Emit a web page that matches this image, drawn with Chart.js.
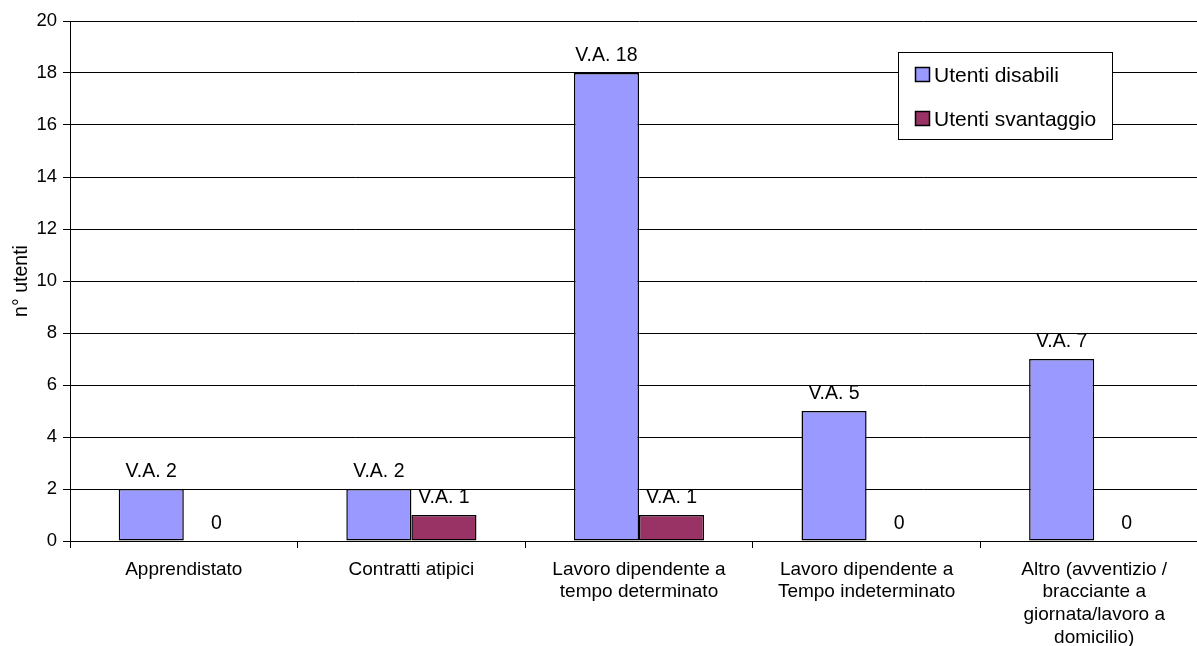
<!DOCTYPE html>
<html>
<head>
<meta charset="utf-8">
<script src="https://cdn.jsdelivr.net/npm/chart.js@4"></script>
<style>
  html, body { margin: 0; padding: 0; background: #fff; overflow: hidden; }
  .chart-wrap { position: relative; width: 1208px; height: 646px; }
</style>
</head>
<body>
<div class="chart-wrap"><canvas id="utentiChart"></canvas></div>
<script>
// categories and values
const categories = [
  'Apprendistato',
  'Contratti atipici',
  ['Lavoro dipendente a', 'tempo determinato'],
  ['Lavoro dipendente a', 'Tempo indeterminato'],
  ['Altro (avventizio /', 'bracciante a', 'giornata/lavoro a', 'domicilio)']
];
const utentiDisabili = [2, 2, 18, 5, 7];
const utentiSvantaggio = [0, 1, 1, 0, 0];
const yTicks = [0, 2, 4, 6, 8, 10, 12, 14, 16, 18, 20];

const FONT = '"Liberation Sans", Arial, sans-serif';

// "V.A. n" labels above each bar, plain "0" for empty values
const valueLabels = {
  id: 'valueLabels',
  afterDatasetsDraw(chart) {
    const ctx = chart.ctx;
    ctx.save();
    ctx.font = '19.5px ' + FONT;
    ctx.fillStyle = '#000';
    ctx.textAlign = 'center';
    ctx.textBaseline = 'alphabetic';
    chart.data.datasets.forEach((ds, i) => {
      chart.getDatasetMeta(i).data.forEach((bar, j) => {
        const v = ds.data[j];
        const txt = v === 0 ? '0' : 'V.A. ' + v;
        ctx.fillText(txt, bar.x, bar.y - 12);
      });
    });
    ctx.restore();
  }
};

// boxed legend inside the plot, top right
const boxLegend = {
  id: 'boxLegend',
  afterDraw(chart) {
    const ctx = chart.ctx;
    const x = 898, y = 52, w = 214, h = 87;
    ctx.save();
    ctx.fillStyle = '#fff';
    ctx.fillRect(x, y, w, h);
    ctx.strokeStyle = '#000';
    ctx.lineWidth = 1;
    ctx.strokeRect(x + 0.5, y + 0.5, w, h);
    ctx.font = '21px ' + FONT;
    ctx.textBaseline = 'middle';
    ctx.textAlign = 'left';
    chart.data.datasets.forEach((ds, i) => {
      const cy = y + 23 + i * 44;
      ctx.fillStyle = ds.backgroundColor;
      ctx.fillRect(x + 17.5, cy - 7.5, 14, 14);
      ctx.lineWidth = 1.5;
      ctx.strokeRect(x + 17.5, cy - 7.5, 14, 14);
      ctx.fillStyle = '#000';
      ctx.fillText(ds.label, x + 36, cy + 1);
    });
    ctx.restore();
  }
};

new Chart(document.getElementById('utentiChart'), {
  type: 'bar',
  data: {
    labels: categories,
    datasets: [
      {
        label: 'Utenti disabili',
        data: utentiDisabili,
        backgroundColor: '#9999FF',
        borderColor: '#000',
        borderWidth: 1.5,
        borderSkipped: false
      },
      {
        label: 'Utenti svantaggio',
        data: utentiSvantaggio,
        backgroundColor: '#993366',
        borderColor: '#000',
        borderWidth: 1.5,
        borderSkipped: false
      }
    ]
  },
  options: {
    responsive: true,
    maintainAspectRatio: false,
    animation: false,
    datasets: {
      bar: { categoryPercentage: 0.572, barPercentage: 1.0 }
    },
    layout: { padding: { top: 21, right: 0, bottom: 0, left: 0 } },
    plugins: {
      legend: { display: false },
      tooltip: { enabled: false }
    },
    scales: {
      x: {
        afterFit(scale) { scale.height = 105; },
        border: { color: '#000', width: 1 },
        grid: {
          offset: true,
          drawOnChartArea: false,
          drawTicks: true,
          tickLength: 7,
          color: '#000'
        },
        ticks: {
          color: '#000',
          font: { family: FONT, size: 19, lineHeight: 1.2 },
          padding: 10,
          maxRotation: 0,
          autoSkip: false
        }
      },
      y: {
        min: 0,
        max: 20,
        afterFit(scale) { scale.width = 70; },
        afterBuildTicks(scale) { scale.ticks = yTicks.map(v => ({ value: v })); },
        border: { color: '#000', width: 1 },
        grid: {
          color: '#000',
          lineWidth: 1,
          tickLength: 7
        },
        ticks: {
          color: '#000',
          font: { family: FONT, size: 18.5 },
          padding: 6
        },
        title: {
          display: true,
          text: 'n° utenti',
          color: '#000',
          font: { family: FONT, size: 19.5 },
          padding: { top: 10, bottom: 0 }
        }
      }
    }
  },
  plugins: [valueLabels, boxLegend]
});
</script>
</body>
</html>
